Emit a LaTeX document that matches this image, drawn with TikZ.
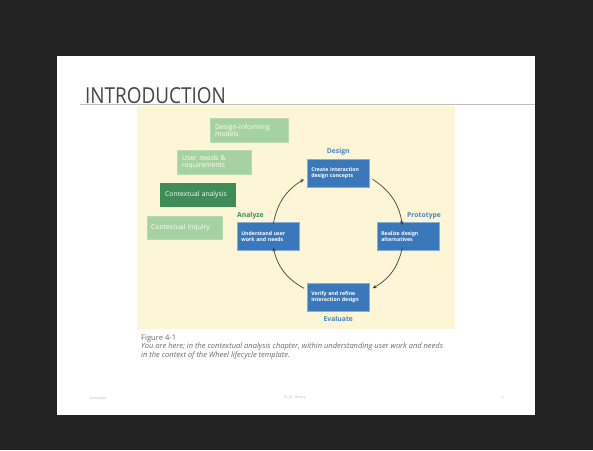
\documentclass[tikz,border=0pt]{standalone}
\usepackage{fontspec}
\setmainfont{Open Sans}
\usetikzlibrary{arrows.meta,calc}
\definecolor{bgdark}{HTML}{232323}
\definecolor{figbg}{HTML}{FCF5D6}
\definecolor{lgreen}{HTML}{A6D1A0}
\definecolor{dgreen}{HTML}{3E8C58}
\definecolor{wblue}{HTML}{3B78BB}
\definecolor{lblue}{HTML}{4A85C3}
\definecolor{agreen}{HTML}{3A8A5C}
\definecolor{titlegray}{HTML}{444444}
\definecolor{capgray}{HTML}{6A6A6A}
\tikzset{
  x=1pt,y=-1pt,
  gbox/.style={fill=lgreen,draw=lgreen!80!white,text=white,font=\fontsize{6.8}{7.4}\selectfont,align=left,anchor=north west,inner sep=0pt,text width=#1},
  bbox/.style={fill=wblue,draw=wblue!60!white,line width=0.6pt,text=white,font=\fontsize{5.2}{6.2}\selectfont\bfseries,align=left,anchor=north west,minimum width=62pt,minimum height=28pt,inner xsep=4pt,text width=54pt},
  philabel/.style={font=\fontsize{6.8}{8}\selectfont\bfseries,inner sep=0pt},
  cyc/.style={-{Stealth[length=4pt,width=3.5pt]},draw=black!75,line width=0.7pt},
  foot/.style={font=\fontsize{3.5}{4}\selectfont,text=black!30}
}
\begin{document}
\begin{tikzpicture}
\useasboundingbox (0,0) rectangle (593,450);
\fill[bgdark] (0,0) rectangle (593,450);
\fill[white] (57,56) rectangle (535,415);
% title
\node[anchor=base west,inner sep=0pt,text=titlegray,font=\fontsize{22}{24}\selectfont] (title) at (85,103) {\scalebox{0.86}[1]{INTRODUCTION}};
\draw[black!25,line width=0.6pt] (80,104.5) -- (535,104.5);
% figure background
\fill[figbg] (137,106) rectangle (455,329);
% green boxes
\node[gbox=78pt,minimum height=24pt] (dim) at (210,118) {\hspace*{5pt}\parbox{72pt}{Design-informing\\models}};
\node[gbox=74pt,minimum height=24pt] (unr) at (177,150) {\hspace*{5pt}\parbox{68pt}{User needs \&\\requirements}};
\node[gbox=75pt,minimum height=23pt,fill=dgreen,draw=dgreen] (ca) at (160,183) {\hspace*{5pt}Contextual analysis};
\node[gbox=75pt,minimum height=23pt] (ci) at (147,216) {\hspace*{4pt}Contextual inquiry};
% blue boxes
\node[bbox] (des) at (307,159) {Create interaction\\design concepts};
\node[bbox] (pro) at (377,222) {Realize design\\alternatives};
\node[bbox] (und) at (237,222) {Understand user\\work and needs};
\node[bbox] (ver) at (307,283) {Verify and refine\\interaction design};
% phase labels
\node[philabel,text=lblue,anchor=base] (ldes) at ($(des.north)+(0,-6)$) {Design};
\node[philabel,text=lblue,anchor=base west] (lpro) at (407,217) {Prototype};
\node[philabel,text=agreen,anchor=base west] (lana) at (237,217) {Analyze};
\node[philabel,text=lblue,anchor=base] (leva) at ($(ver.south)+(0,10)$) {Evaluate};
% cycle arrows
\draw[cyc] ([xshift=5pt,yshift=-2pt]und.north) to[bend left=24] ([xshift=-3pt,yshift=-6pt]des.west);
\draw[cyc] ([xshift=3pt,yshift=-6pt]des.east) to[bend left=24] ([xshift=-6pt,yshift=-3pt]pro.north);
\draw[cyc] ([xshift=-6pt,yshift=3pt]pro.south) to[bend left=24] ([xshift=3pt,yshift=9pt]ver.east);
\draw[cyc] ([xshift=-3pt,yshift=9pt]ver.west) to[bend left=24] ([xshift=5pt,yshift=3pt]und.south);
% caption
\node[anchor=base west,inner sep=0pt,text=capgray,font=\fontsize{7.6}{8}\selectfont] (fig) at (141,340) {Figure 4-1};
\node[anchor=north west,inner sep=0pt,text=capgray,font=\fontsize{7.5}{9.4}\selectfont\itshape,align=left] (cap) at (141,342.5) {You are here; in the contextual analysis chapter, within understanding user work and needs\\in the context of the Wheel lifecycle template.};
% footer
\node[foot,anchor=west] (f1) at (86,398) {Lecture\#4};
\node[foot] (f2) at (295,398) {IE\_UX Theory};
\node[foot] (f3) at (503,398) {7};
\end{tikzpicture}
\end{document}
